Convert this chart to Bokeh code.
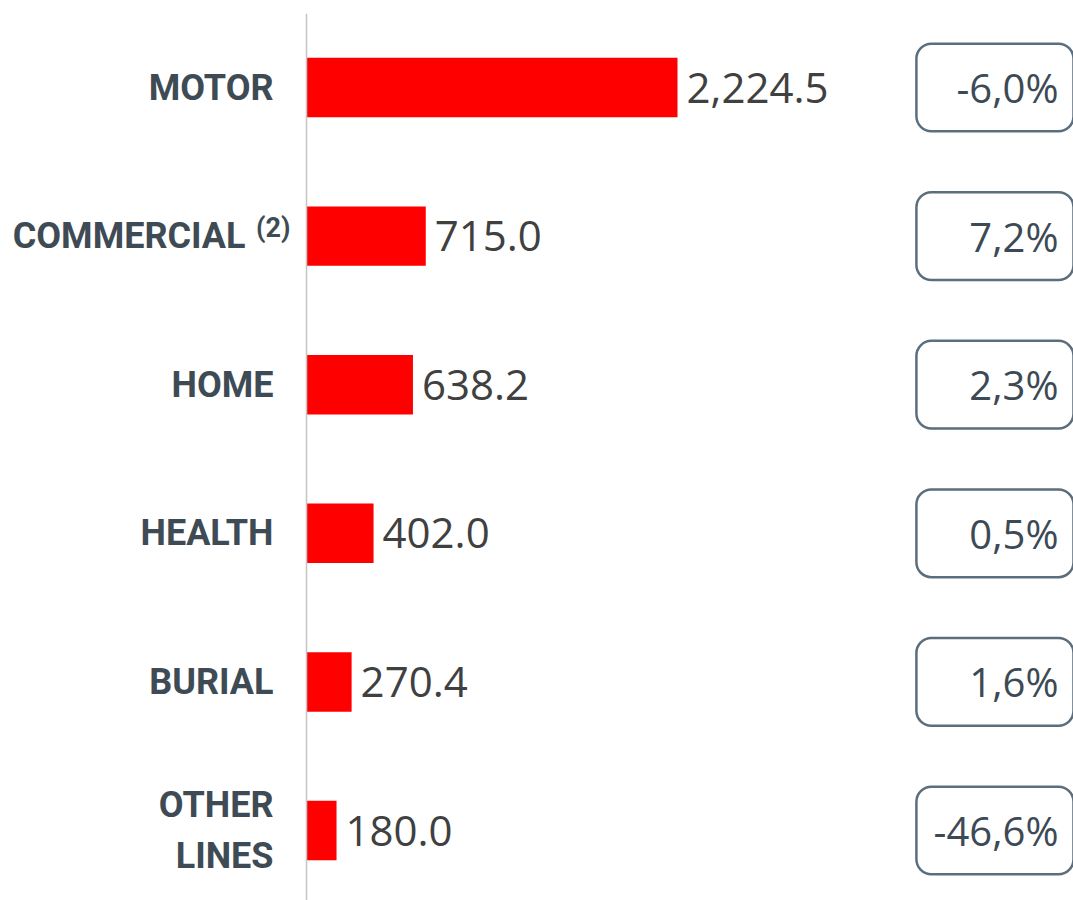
from bokeh.plotting import figure
from bokeh.models import ColumnDataSource, Range1d, Span
from bokeh.core.properties import value
from bokeh.embed import file_html
from bokeh.resources import INLINE

categories = ["MOTOR", "COMMERCIAL", "HOME", "HEALTH", "BURIAL", "OTHER\nLINES"]
notes = ["", "(2)", "", "", "", ""]
values = [2224.5, 715.0, 638.2, 402.0, 270.4, 180.0]
value_labels = ["2,224.5", "715.0", "638.2", "402.0", "270.4", "180.0"]
changes = ["-6,0%", "7,2%", "2,3%", "0,5%", "1,6%", "-46,6%"]

idx = list(range(len(categories)))
src = ColumnDataSource(dict(
    y=idx, cat=categories, note=notes, val=values, vlab=value_labels, chg=changes,
    loff=[-61 if n else -33 for n in notes],
))

p = figure(width=1073, height=900, output_backend="svg", toolbar_location=None,
           x_range=Range1d(-1835, 4599), y_range=Range1d(5.471, -0.498),
           min_border=0, min_border_top=13, outline_line_color=None)
p.axis.visible = False
p.grid.visible = False
p.background_fill_color = "white"
p.border_fill_color = "white"

p.add_layout(Span(location=0, dimension="height", line_color="#c4c4c4", line_width=1.5))

p.hbar(y="y", left=0, right="val", height=0.4, source=src,
       fill_color="#ff0000", line_color=None)

p.text(x="val", y="y", text="vlab", source=src, x_offset=9,
       text_align="left", text_baseline="middle",
       text_font=value("Open Sans"), text_font_size="42px", text_color="#404040")

p.text(x=0, y="y", text="cat", source=src, x_offset="loff",
       text_align="right", text_baseline="middle", text_line_height=1.2,
       text_font=value("Roboto"), text_font_style="bold",
       text_font_size="36px", text_color="#3e4b54")

p.text(x=0, y="y", text="note", source=src, x_offset=-16, y_offset=-8,
       text_align="right", text_baseline="middle",
       text_font=value("Roboto"), text_font_style="bold",
       text_font_size="27px", text_color="#3e4b54")

# change boxes
p.hbar(y="y", left=3657, right=4617, height=0.59, source=src,
       fill_color=None, line_color="#5b6e7d", line_width=2.5, border_radius=15)

p.text(x=4509, y="y", text="chg", source=src,
       text_align="right", text_baseline="middle",
       text_font=value("Open Sans"), text_font_size="40px", text_color="#3d4a55")

open("out.html", "w").write(file_html(p, INLINE))
